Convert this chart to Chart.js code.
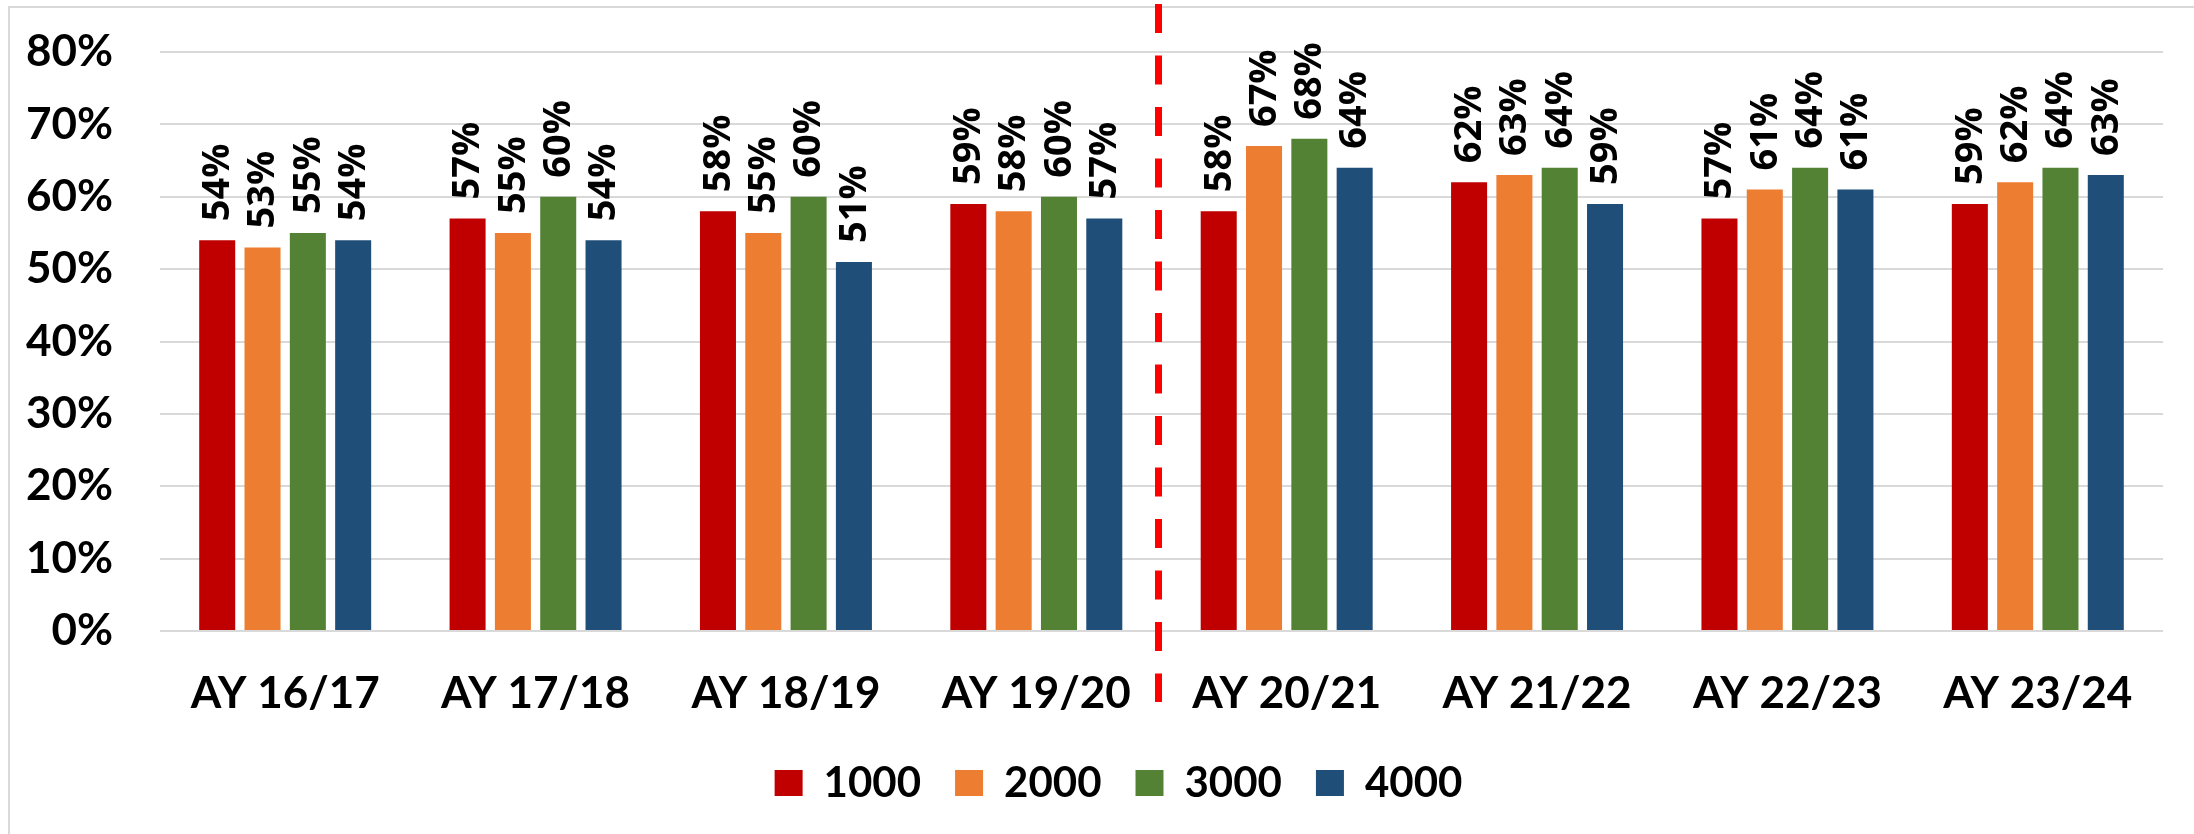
<!DOCTYPE html>
<html>
<head>
<meta charset="utf-8">
<script src="https://cdn.jsdelivr.net/npm/chart.js@4"></script>
<style>
  body { margin:0; background:#fff; }
  #wrap { width:2194px; height:834px; }
</style>
</head>
<body>
<div id="wrap"><canvas id="chart" width="2194" height="834"></canvas></div>
<script>
// Data
let years = ["AY 16/17","AY 17/18","AY 18/19","AY 19/20","AY 20/21","AY 21/22","AY 22/23","AY 23/24"];
let names = ["1000","2000","3000","4000"];
let s1000 = [54,57,58,59,58,62,57,59];
let s2000 = [53,55,55,58,67,63,61,62];
let s3000 = [55,60,60,60,68,64,64,64];
let s4000 = [54,54,51,57,64,59,61,63];
let colors = ["#C00000","#ED7D31","#548235","#1F4E79"];
let splitAfter = 3; // dashed line sits between AY 19/20 and AY 20/21

const axisFont = { family:"Lato", weight:"bold", size:44 };

// light frame round the chart
const framePlugin = {
  id:"frame",
  beforeDraw(chart){
    const ctx = chart.ctx;
    ctx.save();
    ctx.fillStyle = "#fff";
    ctx.fillRect(0,0,chart.width,chart.height);
    ctx.strokeStyle = "#D9D9D9";
    ctx.lineWidth = 2;
    ctx.strokeRect(9,7,chart.width+20,chart.height+20);
    ctx.restore();
  }
};

// legend sits a bit right of where chart.js would centre it
const legendShift = {
  id:"legendShift",
  afterLayout(chart){
    chart.legend.left += 37;
    chart.legend.right += 37;
  }
};

// rotated value labels above the bars
const labelPlugin = {
  id:"valueLabels",
  afterDatasetsDraw(chart){
    const ctx = chart.ctx;
    ctx.save();
    ctx.font = "bold 38px 'Open Sans'";
    ctx.fillStyle = "#000";
    ctx.textAlign = "left";
    ctx.textBaseline = "middle";
    chart.data.datasets.forEach((ds,i)=>{
      chart.getDatasetMeta(i).data.forEach((bar,j)=>{
        ctx.save();
        ctx.translate(bar.x + 1, bar.y - 19);
        ctx.rotate(-Math.PI/2);
        ctx.fillText(ds.data[j] + "%", 0, 0);
        ctx.restore();
      });
    });
    ctx.restore();
  }
};

// red dashed divider
const dividerPlugin = {
  id:"divider",
  afterDatasetsDraw(chart){
    const x = chart.scales.x;
    const px = (x.getPixelForValue(splitAfter) + x.getPixelForValue(splitAfter+1)) / 2;
    const ctx = chart.ctx;
    ctx.save();
    ctx.strokeStyle = "#FF0000";
    ctx.lineWidth = 7;
    ctx.setLineDash([29,22.5]);
    ctx.beginPath();
    ctx.moveTo(px - 3, 4);
    ctx.lineTo(px - 3, 702);
    ctx.stroke();
    ctx.restore();
  }
};

new Chart(document.getElementById("chart"), {
  type:"bar",
  data:{
    labels: years,
    datasets:[s1000,s2000,s3000,s4000].map((d,i)=>({
      label: names[i],
      data: d,
      backgroundColor: colors[i],
      barPercentage: 0.795,
      categoryPercentage: 0.724
    }))
  },
  options:{
    responsive:false,
    animation:false,
    devicePixelRatio:1,
    layout:{ padding:{ top:52, left:0, right:31, bottom:20 } },
    plugins:{
      legend:{
        position:"bottom",
        labels:{ font:{ family:"Lato", weight:"bold", size:42 }, color:"#000", boxWidth:28, boxHeight:26, padding:34 }
      },
      tooltip:{ enabled:false }
    },
    scales:{
      x:{
        grid:{ display:false },
        border:{ display:false },
        afterFit(s){ s.height = 97; },
        ticks:{ font:axisFont, color:"#000", padding:28, maxRotation:0 }
      },
      y:{
        min:0, max:80,
        afterFit(s){ s.width = 160; s.paddingTop = 0; s.paddingBottom = 0; },
        grid:{ color:"#D9D9D9", lineWidth:2, drawTicks:false },
        border:{ display:false },
        ticks:{ stepSize:10, font:axisFont, color:"#000", padding:47, callback:v=>v+"%" }
      }
    }
  },
  plugins:[framePlugin, legendShift, labelPlugin, dividerPlugin]
});
</script>
</body>
</html>
